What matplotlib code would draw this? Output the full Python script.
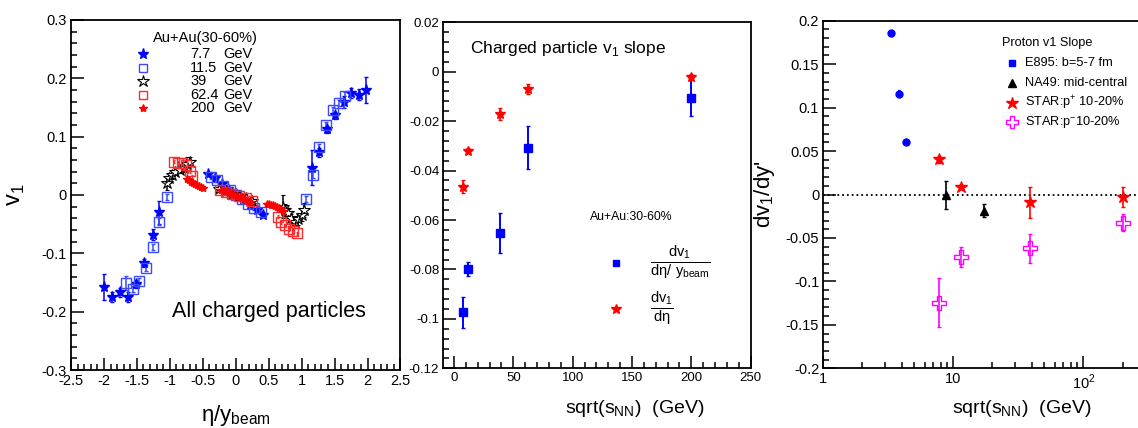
import numpy as np
import matplotlib
matplotlib.use('Agg')
import matplotlib.pyplot as plt
from matplotlib.ticker import MultipleLocator, FuncFormatter, FixedLocator, LogLocator, NullFormatter

plt.rcParams['axes.unicode_minus'] = False
plt.rcParams['font.family'] = ['Liberation Sans', 'DejaVu Sans']

# ---- left panel: v1 vs eta/ybeam, Au+Au 30-60%
x_77 = [-2.00, -1.88, -1.76, -1.64, -1.52, -1.39, -1.26, -1.16,
        -0.42, -0.32, -0.21, -0.11, 0.00, 0.11, 0.21, 0.32, 0.42,
        1.15, 1.26, 1.38, 1.51, 1.64, 1.75, 1.87, 1.98]
y_77 = [-0.158, -0.175, -0.167, -0.175, -0.152, -0.117, -0.068, -0.030,
        0.036, 0.029, 0.019, 0.011, 0.002, -0.008, -0.017, -0.026, -0.034,
        0.047, 0.073, 0.113, 0.137, 0.159, 0.175, 0.172, 0.180]
e_77 = [0.022, 0.008, 0.007, 0.008, 0.007, 0.007, 0.009, 0.020,
        0.004, 0.004, 0.004, 0.004, 0.004, 0.004, 0.004, 0.004, 0.004,
        0.030, 0.008, 0.006, 0.006, 0.010, 0.008, 0.009, 0.022]

x_115 = [-1.66, -1.56, -1.47, -1.36, -1.26, -1.16, -1.05,
         -0.38, -0.28, -0.19, -0.09, 0.00, 0.09, 0.19, 0.28, 0.38,
         1.06, 1.17, 1.26, 1.37, 1.47, 1.57, 1.66]
y_115 = [-0.151, -0.161, -0.147, -0.125, -0.089, -0.046, -0.003,
         0.030, 0.025, 0.015, 0.008, 0.000, -0.007, -0.016, -0.022, -0.030,
         -0.007, 0.035, 0.083, 0.120, 0.145, 0.158, 0.169]
e_115 = [0.012, 0.005, 0.005, 0.005, 0.005, 0.006, 0.005,
         0.003, 0.003, 0.003, 0.003, 0.003, 0.003, 0.003, 0.003, 0.003,
         0.005, 0.006, 0.005, 0.005, 0.005, 0.005, 0.008]

x_39 = [-1.05, -1.02, -0.97, -0.92, -0.84, -0.79, -0.74, -0.70,
        -0.25, -0.15, -0.05, 0.05, 0.15, 0.25,
        0.71, 0.75, 0.79, 0.84, 0.90, 0.95, 1.00, 1.04]
y_39 = [0.021, 0.029, 0.034, 0.040, 0.043, 0.047, 0.053, 0.057,
        0.010, 0.006, 0.002, -0.002, -0.006, -0.010,
        -0.020, -0.026, -0.031, -0.040, -0.046, -0.042, -0.034, -0.025]
e_39 = [0.012, 0.008, 0.007, 0.006, 0.006, 0.007, 0.012, 0.008,
        0.003, 0.003, 0.003, 0.003, 0.003, 0.003,
        0.020, 0.010, 0.008, 0.008, 0.008, 0.010, 0.010, 0.012]

x_624 = [-0.93, -0.87, -0.81, -0.75, -0.70, -0.66,
         -0.24, -0.15, -0.05, 0.05, 0.15, 0.24,
         0.64, 0.69, 0.75, 0.81, 0.87, 0.93]
y_624 = [0.057, 0.055, 0.054, 0.051, 0.041, 0.032,
         0.009, 0.005, 0.002, -0.002, -0.006, -0.010,
         -0.037, -0.046, -0.052, -0.058, -0.062, -0.066]
e_624 = [0.003] * 18

x_200 = [-0.74, -0.71, -0.68, -0.65, -0.62, -0.59, -0.56, -0.53, -0.50,
         -0.22, -0.18, -0.14, -0.10, -0.06, -0.02, 0.02, 0.06, 0.10, 0.14, 0.18, 0.22,
         0.48, 0.51, 0.54, 0.57, 0.60, 0.63, 0.66, 0.69, 0.72]
y_200 = [0.028, 0.025, 0.022, 0.020, 0.018, 0.017, 0.015, 0.013, 0.012,
         0.009, 0.007, 0.006, 0.004, 0.002, 0.000, -0.002, -0.004, -0.006, -0.008, -0.010, -0.012,
         -0.015, -0.016, -0.017, -0.018, -0.019, -0.020, -0.022, -0.024, -0.027]
e_200 = [0.002] * 30

energies = ['7.7', '11.5', '39', '62.4', '200']

# ---- middle panel: charged particle v1 slope
snn = [7.7, 11.5, 39, 62.4, 200]
slope_yb = [-0.0974, -0.0798, -0.0653, -0.0307, -0.0105]
slope_yb_err = [0.0063, 0.0027, 0.0080, 0.0088, 0.0074]
slope_eta = [-0.0465, -0.0320, -0.0172, -0.0071, -0.0020]
slope_eta_err = [0.0025, 0.0010, 0.0025, 0.0020, 0.0012]

# ---- right panel: proton v1 slope
e895_x = [3.3, 3.8, 4.3]
e895_y = [0.1855, 0.1157, 0.0608]
e895_err = [0.003, 0.004, 0.003]
na49_x = [8.8, 17.3]
na49_y = [-0.0006, -0.0186]
na49_err = [0.0157, 0.0075]
star_p_x = [7.7, 11.5, 39, 200]
star_p_y = [0.0408, 0.0090, -0.0090, -0.0032]
star_p_err = [0.004, 0.003, 0.0177, 0.0115]
star_pbar_x = [7.7, 11.5, 39, 200]
star_pbar_y = [-0.1245, -0.0716, -0.0620, -0.0324]
star_pbar_err = [0.028, 0.0115, 0.0165, 0.0098]

fig = plt.figure(figsize=(11.38, 4.28), dpi=100)
ax1 = fig.add_axes([0.0624, 0.1355, 0.2895, 0.8178])
ax2 = fig.add_axes([0.3896, 0.1395, 0.2700, 0.8084])
ax3 = fig.add_axes([0.7235, 0.1395, 0.2830, 0.8121])

gfmt = FuncFormatter(lambda v, p: '%g' % round(v, 6))


def style(ax, size):
    for s in ax.spines.values():
        s.set_linewidth(1.3)
    ax.tick_params(which='both', direction='in', top=False, right=False, width=1.1,
                   labelsize=size)
    ax.tick_params(which='major', length=9, pad=3)
    ax.tick_params(which='minor', length=4.5)


# left
ax1.errorbar(x_77, y_77, yerr=e_77, fmt='*', color='blue', ms=8, elinewidth=1.1, capsize=1.5)
ax1.errorbar(x_115, y_115, yerr=e_115, fmt='s', color='#3b4cff', mfc='none', mew=1, ms=6.5,
             elinewidth=1.1, capsize=1.5)
ax1.errorbar(x_39, y_39, yerr=e_39, fmt='*', color='black', mfc='white', mew=0.8, ms=9,
             elinewidth=1.1, capsize=1.5)
ax1.errorbar(x_624, y_624, yerr=e_624, fmt='s', color='#ff2a2a', mfc='none', mew=1, ms=6.5,
             elinewidth=1, capsize=1)
ax1.errorbar(x_200, y_200, yerr=e_200, fmt='*', color='red', ms=6, elinewidth=1, capsize=1)
ax1.set_xlim(-2.5, 2.5)
ax1.set_ylim(-0.3, 0.3)
ax1.xaxis.set_major_locator(MultipleLocator(0.5))
ax1.xaxis.set_minor_locator(MultipleLocator(0.1))
ax1.yaxis.set_major_locator(MultipleLocator(0.1))
ax1.yaxis.set_minor_locator(MultipleLocator(0.02))
ax1.xaxis.set_major_formatter(gfmt)
ax1.yaxis.set_major_formatter(gfmt)
style(ax1, 10.5)
ax1.set_ylabel('v$_\\mathregular{1}$', fontsize=17)
ax1.yaxis.set_label_coords(-0.135, 0.5)
ax1.set_xlabel('η/y$_\\mathregular{beam}$', fontsize=16)
ax1.xaxis.set_label_coords(0.5, -0.095)
ax1.text(0.308, 0.167, 'All charged particles', transform=ax1.transAxes, fontsize=15.5,
         va='center')

ax1.text(0.249, 0.949, 'Au+Au(30-60%)', transform=ax1.transAxes, fontsize=10.5, va='center')
leg_y = [0.902, 0.864, 0.826, 0.786, 0.749]
leg_style = [dict(marker='*', color='blue', ms=8),
             dict(marker='s', color='#3b4cff', mfc='none', ms=6),
             dict(marker='*', color='black', mfc='white', mew=0.8, ms=9),
             dict(marker='s', color='#ff2a2a', mfc='none', ms=6),
             dict(marker='*', color='red', ms=6)]
for e, ly, st in zip(energies, leg_y, leg_style):
    ax1.plot([0.2195], [ly], ls='none', transform=ax1.transAxes, **st)
    ax1.text(0.362, ly, e, transform=ax1.transAxes, fontsize=10.5, va='center')
    ax1.text(0.462, ly, 'GeV', transform=ax1.transAxes, fontsize=10.5, va='center')

# middle
ax2.errorbar(snn, slope_yb, yerr=slope_yb_err, fmt='s', color='blue', ms=5.5, elinewidth=1.4,
             capsize=1.5)
ax2.errorbar(snn, slope_eta, yerr=slope_eta_err, fmt='*', color='red', ms=7.5, elinewidth=1.2,
             capsize=1.5)
ax2.set_xlim(-9, 250)
ax2.set_ylim(-0.12, 0.02)
ax2.xaxis.set_major_locator(MultipleLocator(50))
ax2.xaxis.set_minor_locator(MultipleLocator(10))
ax2.yaxis.set_major_locator(MultipleLocator(0.02))
ax2.yaxis.set_minor_locator(MultipleLocator(0.004))
ax2.xaxis.set_major_formatter(gfmt)
ax2.yaxis.set_major_formatter(gfmt)
style(ax2, 9.5)
ax2.text(0.087, 0.925, 'Charged particle v$_\\mathregular{1}$ slope', transform=ax2.transAxes,
         fontsize=12.5, va='center')
ax2.text(0.396, -0.085, 'sqrt(s$_\\mathregular{NN}$)  (GeV)', transform=ax2.transAxes,
         fontsize=14, va='top')
ax2.text(0.4775, 0.438, 'Au+Au:30-60%', transform=ax2.transAxes, fontsize=8.8, va='center')
ax2.plot([0.562], [0.305], 's', color='blue', ms=5, transform=ax2.transAxes)
ax2.plot([0.562], [0.171], '*', color='red', ms=7, transform=ax2.transAxes)
ax2.text(0.672, 0.305, r'$\frac{\mathregular{dv_1}}{\mathregular{d\eta/\ y_{beam}}}$',
         transform=ax2.transAxes, fontsize=15, va='center')
ax2.text(0.672, 0.171, r'$\frac{\mathregular{dv_1}}{\mathregular{d\eta}}$',
         transform=ax2.transAxes, fontsize=15, va='center')

# right
ax3.axhline(0, color='black', ls=':', lw=1.3)
ax3.errorbar(e895_x, e895_y, yerr=e895_err, fmt='o', color='blue', ms=5, elinewidth=1.2, capsize=1)
ax3.errorbar(na49_x, na49_y, yerr=na49_err, fmt='^', color='black', ms=6, elinewidth=1.2,
             capsize=1.5)
ax3.errorbar(star_p_x, star_p_y, yerr=star_p_err, fmt='*', color='red', ms=9, elinewidth=1.2,
             capsize=1.5)
ax3.errorbar(star_pbar_x, star_pbar_y, yerr=star_pbar_err, fmt='P', color='magenta', mfc='none',
             mew=1, ms=10, elinewidth=1.2, capsize=1.5)
ax3.set_xscale('log')
ax3.set_xlim(1, 300)
ax3.set_ylim(-0.2, 0.2)
ax3.xaxis.set_major_locator(FixedLocator([1, 10, 100]))
ax3.xaxis.set_major_formatter(FuncFormatter(
    lambda v, p: {1: '1', 10: '10', 100: '10$^\\mathregular{2}$'}.get(int(round(v)), '')))
ax3.xaxis.set_minor_locator(LogLocator(base=10, subs=np.arange(2, 10)))
ax3.xaxis.set_minor_formatter(NullFormatter())
ax3.yaxis.set_major_locator(MultipleLocator(0.05))
ax3.yaxis.set_minor_locator(MultipleLocator(0.01))
ax3.yaxis.set_major_formatter(gfmt)
style(ax3, 10.5)
ax3.set_ylabel("dv$_\\mathregular{1}$/dy'", fontsize=16)
ax3.yaxis.set_label_coords(-0.145, 0.5)
ax3.text(0.399, -0.085, 'sqrt(s$_\\mathregular{NN}$)  (GeV)', transform=ax3.transAxes,
         fontsize=14, va='top')

ax3.text(0.554, 0.935, 'Proton v1 Slope', transform=ax3.transAxes, fontsize=9.2, va='center')
leg3_y = [0.877, 0.820, 0.762, 0.709]
leg3_txt = ['E895: b=5-7 fm', 'NA49: mid-central', 'STAR:p$^\\mathregular{+}$ 10-20%',
            'STAR:p$^\\mathregular{-}$10-20%']
leg3_style = [dict(marker='s', color='blue', ms=4.5),
              dict(marker='^', color='black', ms=6),
              dict(marker='*', color='red', ms=9),
              dict(marker='P', color='magenta', mfc='none', mew=1, ms=9)]
for t, ly, st in zip(leg3_txt, leg3_y, leg3_style):
    ax3.plot([0.585], [ly], ls='none', transform=ax3.transAxes, **st)
    ax3.text(0.626, ly, t, transform=ax3.transAxes, fontsize=9.2, va='center')

fig.savefig('out.png', dpi=100)
